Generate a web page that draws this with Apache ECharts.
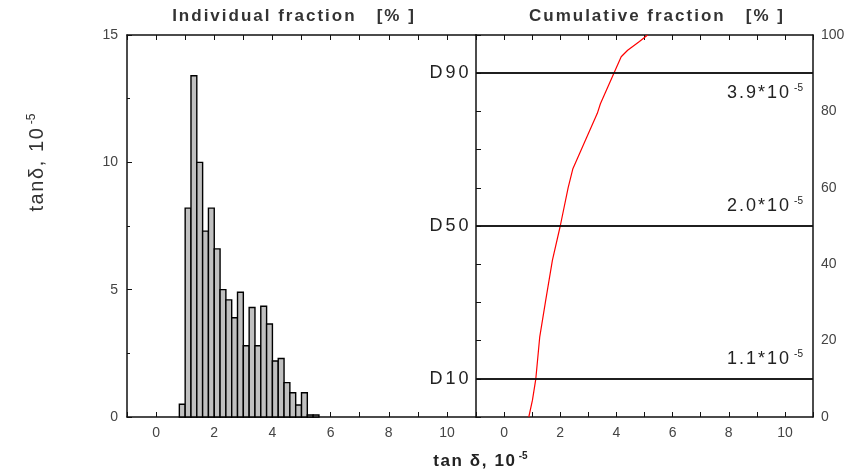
<!DOCTYPE html>
<html>
<head>
<meta charset="utf-8">
<script src="https://cdn.jsdelivr.net/npm/echarts@6/dist/echarts.min.js"></script>
<style>
html, body { margin: 0; padding: 0; background: #fff; }
#main { width: 859px; height: 475px; }
</style>
</head>
<body>
<div id="main"></div>
<script>
// 直方图：区间左端 (tanδ, 10^-5) 与各区间的百分比
var binLeft = [0.8, 1.0, 1.2, 1.4, 1.6, 1.8, 2.0, 2.2, 2.4, 2.6, 2.8, 3.0, 3.2, 3.4, 3.6, 3.8, 4.0, 4.2, 4.4, 4.6, 4.8, 5.0, 5.2, 5.4];
var binPct = [0.5, 8.2, 13.4, 10.0, 7.3, 8.2, 6.6, 5.0, 4.6, 3.9, 4.9, 2.8, 4.3, 2.8, 4.35, 3.65, 2.2, 2.3, 1.35, 0.95, 0.47, 0.95, 0.08, 0.08];
var binWidth = 0.2;
// 累计分布曲线
var cumX = [0.88, 1.01, 1.13, 1.27, 1.47, 1.72, 2.0, 2.28, 2.45, 2.9, 3.32, 3.43, 3.91, 4.17, 4.4, 4.82, 5.11];
var cumY = [0, 4.4, 10, 21, 30, 41, 50, 60, 65, 72.5, 79.5, 82, 90, 94.3, 96, 98.3, 100];
// D10 / D50 / D90
var dLevels = [90, 50, 10];
var dNames = ['D90', 'D50', 'D10'];
var dValues = ['3.9*10', '2.0*10', '1.1*10'];

var FONT = '"Liberation Sans", Arial, sans-serif';
var AXIS_COLOR = '#111';
var LABEL_COLOR = '#444';

// 字间距：每个字符一个 rich 片段
function spaced(text, key) {
    return text.split('').map(function (c) { return '{' + key + '|' + c + '}'; }).join('');
}

function xAxisOf(grid, pos, withLabel) {
    return {
        gridIndex: grid, type: 'value', position: pos,
        min: -1, max: 11, interval: 1,
        axisLine: { show: true, onZero: false, lineStyle: { color: AXIS_COLOR, width: 1.5 } },
        axisTick: { show: true, inside: true, length: 5, lineStyle: { color: AXIS_COLOR } },
        axisLabel: {
            show: withLabel, color: LABEL_COLOR, fontSize: 14, fontFamily: FONT, margin: 9,
            formatter: function (v) { return v % 2 === 0 ? String(v) : ''; }
        },
        splitLine: { show: false }
    };
}

var markData = [];
for (var i = 0; i < dLevels.length; i++) {
    markData.push({
        yAxis: dLevels[i],
        label: {
            show: true, position: 'start', distance: 6,
            formatter: spaced(dNames[i], 'c'),
            rich: { c: { color: '#222', fontSize: 18, fontFamily: FONT, padding: [0, 1.5, 0, 1.5] } }
        }
    });
    markData.push({
        yAxis: dLevels[i],
        label: {
            show: true,
            position: i === 0 ? 'insideEndBottom' : 'insideEndTop',
            distance: 10,
            formatter: spaced(dValues[i], 'v') + '{s|-5}',
            rich: {
                v: { color: '#222', fontSize: 18, fontFamily: FONT, padding: [0, 1, 0, 1] },
                s: { color: '#222', fontSize: 10, fontFamily: FONT, verticalAlign: 'top', padding: [0, 0, 10, 4] }
            }
        }
    });
}

var titleRich = { t: { fontSize: 17, fontWeight: 'bold', fontFamily: FONT, fill: '#333', padding: [0, 1, 0, 1] } };

var chart = echarts.init(document.getElementById('main'));
chart.setOption({
    animation: false,
    backgroundColor: '#fff',
    grid: [
        { left: 127, top: 35, width: 349, height: 382 },
        { left: 476, top: 35, width: 337, height: 382 }
    ],
    xAxis: [
        xAxisOf(0, 'bottom', true),
        xAxisOf(0, 'top', false),
        xAxisOf(1, 'bottom', true),
        xAxisOf(1, 'top', false)
    ],
    yAxis: [
        {
            gridIndex: 0, type: 'value', position: 'left', min: 0, max: 15, interval: 5,
            axisLine: { show: true, onZero: false, lineStyle: { color: AXIS_COLOR, width: 1.5 } },
            axisTick: { show: true, inside: true, length: 5, lineStyle: { color: AXIS_COLOR } },
            minorTick: { show: true, splitNumber: 2, length: 3, lineStyle: { color: AXIS_COLOR } },
            axisLabel: { color: LABEL_COLOR, fontSize: 14, fontFamily: FONT, margin: 9 },
            splitLine: { show: false }
        },
        {
            gridIndex: 1, type: 'value', position: 'left', min: 0, max: 100, interval: 10,
            axisLine: { show: true, onZero: false, lineStyle: { color: AXIS_COLOR, width: 1.5 } },
            axisTick: { show: true, inside: true, length: 5, lineStyle: { color: AXIS_COLOR } },
            axisLabel: { show: false },
            splitLine: { show: false }
        },
        {
            gridIndex: 1, type: 'value', position: 'right', min: 0, max: 100, interval: 20,
            axisLine: { show: true, onZero: false, lineStyle: { color: AXIS_COLOR, width: 1.5 } },
            axisTick: { show: false },
            axisLabel: { color: LABEL_COLOR, fontSize: 14, fontFamily: FONT, margin: 8 },
            splitLine: { show: false }
        }
    ],
    series: [
        {
            name: 'Individual fraction',
            type: 'custom',
            xAxisIndex: 0, yAxisIndex: 0,
            encode: { x: 0, y: 1 },
            data: binLeft.map(function (x, k) { return [x, binPct[k]]; }),
            renderItem: function (params, api) {
                var x0 = api.value(0);
                var top = api.coord([x0, api.value(1)]);
                var bottom = api.coord([x0 + binWidth, 0]);
                return {
                    type: 'rect',
                    shape: { x: top[0], y: top[1], width: bottom[0] - top[0], height: bottom[1] - top[1] },
                    style: { fill: '#c0c0c0', stroke: '#000', lineWidth: 1.4 }
                };
            }
        },
        {
            name: 'Cumulative fraction',
            type: 'line',
            xAxisIndex: 2, yAxisIndex: 2,
            data: cumX.map(function (x, k) { return [x, cumY[k]]; }),
            symbol: 'none',
            lineStyle: { color: '#ff0000', width: 1.2 },
            z: 3,
            markLine: {
                silent: true,
                symbol: 'none',
                lineStyle: { color: '#111', width: 1.5, type: 'solid' },
                data: markData
            }
        }
    ],
    graphic: [
        {
            type: 'text', x: 293, y: 16,
            style: { text: spaced('Individual fraction   [% ]', 't'), align: 'center', verticalAlign: 'middle', rich: titleRich }
        },
        {
            type: 'text', x: 656, y: 16,
            style: { text: spaced('Cumulative fraction   [% ]', 't'), align: 'center', verticalAlign: 'middle', rich: titleRich }
        },
        {
            type: 'text', x: 480, y: 461,
            style: {
                text: spaced('tan δ, 10', 'a') + '{s|-5}', align: 'center', verticalAlign: 'middle',
                rich: {
                    a: { fontSize: 17, fontWeight: 'bold', fontFamily: FONT, fill: '#222', padding: [0, 0.8, 0, 0.8] },
                    s: { fontSize: 10, fontWeight: 'bold', fontFamily: FONT, fill: '#222', verticalAlign: 'top', padding: [0, 0, 10, 3] }
                }
            }
        },
        {
            type: 'text', x: 37, y: 163, rotation: Math.PI / 2,
            style: {
                text: spaced('tanδ, 10', 'a') + '{s|-5}', align: 'center', verticalAlign: 'middle',
                rich: {
                    a: { fontSize: 20, fontFamily: FONT, fill: '#333', padding: [0, 0.8, 0, 0.8] },
                    s: { fontSize: 12, fontFamily: FONT, fill: '#333', verticalAlign: 'top', padding: [0, 0, 11, 3] }
                }
            }
        }
    ]
});
</script>
</body>
</html>
